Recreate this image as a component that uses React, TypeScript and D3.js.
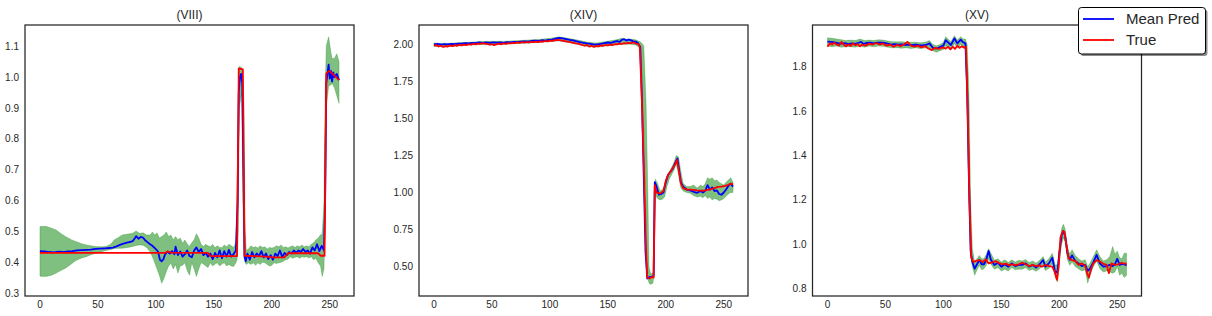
import * as d3 from "d3";

type Pt = [number, number];
type Band = [number, number, number];

const xTicks = [0, 50, 100, 150, 200, 250];
const legendLabels = ["Mean Pred", "True"];

// (VIII)
const viiiYTicks = [0.3, 0.4, 0.5, 0.6, 0.7, 0.8, 0.9, 1.0, 1.1];
const viiiTrue: Pt[] = [
  [0, 0.432], [108, 0.432], [110, 0.437], [113, 0.433], [145, 0.432], [147, 0.422], [170, 0.422],
  [171.5, 1.028], [175, 1.025], [176.5, 0.423], [196, 0.42], [200, 0.418], [211, 0.418], [214, 0.431],
  [240, 0.431], [242, 0.423], [245.5, 0.423], [247, 1.012], [249.5, 1.02], [252, 1.012], [258, 0.99],
];
const viiiMean: Pt[] = [
  [0, 0.438], [4, 0.437], [8, 0.435], [12, 0.434], [16, 0.436], [20, 0.435], [24, 0.437], [28, 0.438],
  [32, 0.44], [36, 0.441], [40, 0.442], [44, 0.443], [48, 0.445], [52, 0.446], [56, 0.447], [60, 0.448],
  [63, 0.449], [66, 0.453], [69, 0.458], [72, 0.462], [75, 0.465], [78, 0.468], [80, 0.47], [82, 0.48],
  [83, 0.486], [85, 0.478], [87, 0.484], [89, 0.481], [91, 0.472], [93, 0.466], [95, 0.46], [97, 0.455],
  [99, 0.448], [101, 0.44], [102, 0.435], [103.5, 0.41], [105, 0.405], [106.5, 0.412], [108, 0.428],
  [110, 0.436], [112, 0.43], [114, 0.438], [116, 0.428], [117, 0.452], [119, 0.425], [121, 0.437],
  [123, 0.42], [125, 0.428], [127, 0.44], [129, 0.422], [131, 0.418], [133, 0.44], [135, 0.45],
  [137, 0.435], [139, 0.445], [141, 0.425], [143, 0.432], [145, 0.42], [147, 0.43], [149, 0.412],
  [151, 0.432], [153, 0.418], [155, 0.44], [157, 0.415], [159, 0.438], [161, 0.42], [163, 0.442],
  [165, 0.42], [167, 0.428], [169, 0.44], [170.5, 0.6], [171.5, 0.95], [172.5, 1.0], [173.5, 1.01],
  [174.5, 0.98], [175.5, 0.7], [176.5, 0.42], [177.5, 0.405], [179, 0.43], [181, 0.41], [183, 0.435],
  [185, 0.418], [187, 0.43], [189, 0.422], [191, 0.438], [193, 0.418], [195, 0.43], [197, 0.412],
  [199, 0.425], [201, 0.41], [203, 0.43], [205, 0.422], [207, 0.44], [209, 0.418], [211, 0.432],
  [213, 0.425], [215, 0.435], [217, 0.43], [219, 0.44], [221, 0.432], [223, 0.44], [225, 0.435],
  [227, 0.445], [229, 0.435], [231, 0.44], [233, 0.43], [235, 0.45], [237, 0.44], [239, 0.46],
  [241, 0.438], [243, 0.455], [245, 0.44], [246, 0.6], [247, 0.98], [248, 1.01], [249, 1.04],
  [250, 0.995], [251, 1.02], [252, 0.985], [253, 1.015], [254, 1.0], [256, 1.01], [258, 0.99],
];
const viiiBand: Band[] = [
  [0, 0.357, 0.517], [5, 0.356, 0.518], [10, 0.36, 0.512], [14, 0.367, 0.506], [18, 0.375, 0.495],
  [22, 0.383, 0.485], [27, 0.396, 0.475], [31, 0.408, 0.469], [36, 0.416, 0.462], [40, 0.42, 0.458],
  [44, 0.426, 0.455], [48, 0.431, 0.453], [53, 0.436, 0.452], [57, 0.44, 0.453], [61, 0.443, 0.46],
  [64, 0.446, 0.474], [68, 0.447, 0.483], [71, 0.447, 0.49], [76, 0.45, 0.493], [80, 0.453, 0.496],
  [83, 0.456, 0.503], [86, 0.458, 0.495], [89, 0.457, 0.497], [92, 0.45, 0.49], [95, 0.436, 0.49],
  [97, 0.42, 0.5], [99, 0.4, 0.49], [101, 0.38, 0.497], [103, 0.36, 0.48], [105, 0.334, 0.485],
  [107, 0.35, 0.49], [109, 0.372, 0.5], [111, 0.39, 0.485], [113, 0.399, 0.49], [115, 0.38, 0.475],
  [117, 0.395, 0.485], [119, 0.367, 0.475], [121, 0.39, 0.48], [123, 0.392, 0.463], [125, 0.4, 0.474],
  [127, 0.375, 0.462], [129, 0.36, 0.453], [131, 0.4, 0.465], [133, 0.38, 0.475], [135, 0.356, 0.494],
  [137, 0.38, 0.48], [139, 0.4, 0.46], [141, 0.396, 0.453], [143, 0.39, 0.46], [145, 0.385, 0.455],
  [147, 0.4, 0.452], [149, 0.39, 0.46], [151, 0.396, 0.449], [153, 0.4, 0.455], [155, 0.39, 0.45],
  [157, 0.396, 0.449], [159, 0.4, 0.458], [161, 0.39, 0.452], [163, 0.395, 0.46], [165, 0.39, 0.455],
  [167, 0.388, 0.45], [169, 0.4, 0.465], [170, 0.41, 0.55], [171, 0.5, 0.9], [172, 0.9, 1.035],
  [174, 0.95, 1.03], [175, 0.6, 1.02], [176, 0.42, 0.9], [177, 0.4, 0.5], [178, 0.395, 0.44],
  [180, 0.4, 0.445], [182, 0.395, 0.455], [184, 0.4, 0.45], [186, 0.392, 0.452], [188, 0.4, 0.448],
  [190, 0.395, 0.455], [192, 0.402, 0.45], [194, 0.4, 0.452], [196, 0.395, 0.445], [198, 0.39, 0.45],
  [200, 0.392, 0.448], [202, 0.4, 0.45], [204, 0.398, 0.455], [206, 0.4, 0.452], [208, 0.402, 0.458],
  [210, 0.405, 0.45], [212, 0.41, 0.452], [214, 0.412, 0.448], [216, 0.42, 0.452], [218, 0.415, 0.455],
  [220, 0.418, 0.45], [222, 0.42, 0.455], [224, 0.415, 0.452], [226, 0.42, 0.458], [228, 0.418, 0.452],
  [230, 0.42, 0.455], [232, 0.416, 0.452], [234, 0.42, 0.46], [236, 0.41, 0.465], [238, 0.415, 0.474],
  [240, 0.4, 0.48], [242, 0.39, 0.49], [243.5, 0.356, 0.495], [245, 0.38, 0.6], [246, 0.55, 0.95],
  [247, 0.9, 1.1], [249, 0.97, 1.13], [251, 0.975, 1.08], [252, 0.98, 1.06], [254, 0.965, 1.06],
  [256, 0.94, 1.075], [258, 0.915, 1.05],
];

// (XIV)
const xivYTicks = [0.5, 0.75, 1.0, 1.25, 1.5, 1.75, 2.0];
const xivTrue: Pt[] = [
  [0, 1.991], [2, 1.995], [4, 1.985], [6, 1.99], [8, 1.982], [10, 1.988], [12, 1.985], [14, 1.992],
  [16, 1.988], [18, 1.994], [20, 1.99], [22, 1.996], [24, 1.992], [26, 1.998], [28, 1.994], [30, 2.0],
  [32, 1.997], [34, 2.002], [36, 2.0], [38, 2.005], [40, 2.003], [42, 2.008], [44, 2.004], [46, 2.002],
  [48, 1.998], [50, 2.0], [52, 1.994], [54, 2.0], [56, 2.004], [58, 2.0], [60, 2.006], [62, 2.002],
  [64, 2.008], [66, 2.006], [68, 2.01], [70, 2.008], [72, 2.012], [74, 2.01], [76, 2.014], [78, 2.011],
  [80, 2.015], [82, 2.012], [84, 2.016], [86, 2.014], [88, 2.018], [90, 2.015], [92, 2.02], [94, 2.017],
  [96, 2.022], [98, 2.019], [100, 2.024], [102, 2.022], [104, 2.027], [106, 2.03], [108, 2.028],
  [110, 2.026], [112, 2.022], [114, 2.02], [116, 2.016], [118, 2.014], [120, 2.01], [122, 2.006],
  [124, 2.004], [126, 2.0], [128, 1.995], [130, 1.99], [132, 1.996], [134, 1.984], [136, 1.99],
  [138, 1.982], [140, 1.99], [142, 1.986], [144, 1.992], [146, 1.99], [148, 1.995], [150, 1.993],
  [152, 1.997], [154, 1.995], [156, 2.0], [158, 2.0], [160, 2.004], [162, 2.002], [164, 2.008],
  [166, 2.006], [168, 2.01], [170, 2.008], [172, 2.012], [174, 2.005], [176, 2.003], [177.5, 1.99],
  [179, 1.7], [181, 1.2], [183, 0.6], [184, 0.425], [186, 0.42], [188, 0.43], [189.5, 0.425],
  [190.5, 1.05], [192, 1.0], [194, 0.995], [196, 0.998], [198, 1.01], [200, 1.08], [202, 1.12],
  [204, 1.14], [206, 1.165], [208, 1.19], [209.5, 1.22], [211, 1.16], [213, 1.06], [215, 1.03],
  [218, 1.02], [221, 1.02], [224, 1.018], [227, 1.015], [230, 1.013], [233, 1.012], [236, 1.018],
  [239, 1.022], [242, 1.03], [245, 1.038], [248, 1.04], [251, 1.045], [254, 1.052], [256, 1.06],
  [258, 1.055],
];
const xivMean: Pt[] = [
  [0, 2.0], [3, 2.002], [6, 1.998], [9, 2.001], [12, 1.999], [15, 2.003], [18, 2.001], [21, 2.005],
  [24, 2.004], [27, 2.007], [30, 2.006], [33, 2.009], [36, 2.008], [39, 2.012], [42, 2.01], [45, 2.012],
  [48, 2.009], [51, 2.013], [54, 2.011], [57, 2.012], [60, 2.01], [63, 2.014], [66, 2.012], [69, 2.016],
  [72, 2.014], [75, 2.018], [78, 2.02], [81, 2.017], [84, 2.022], [87, 2.025], [90, 2.022], [93, 2.027],
  [96, 2.025], [99, 2.03], [102, 2.032], [105, 2.038], [108, 2.043], [111, 2.04], [114, 2.035],
  [117, 2.03], [120, 2.026], [123, 2.02], [126, 2.014], [129, 2.01], [132, 2.006], [135, 2.003],
  [138, 1.997], [141, 2.0], [144, 2.003], [147, 2.008], [150, 2.012], [153, 2.01], [156, 2.018],
  [158, 2.022], [160, 2.015], [162, 2.03], [164, 2.034], [166, 2.025], [168, 2.031], [170, 2.026],
  [172, 2.02], [174, 2.018], [176, 2.008], [178, 1.98], [179.5, 1.6], [181, 1.1], [182.5, 0.6],
  [184, 0.42], [186, 0.43], [188, 0.43], [189.5, 0.44], [190.5, 1.07], [192, 1.04], [194, 0.985],
  [196, 0.99], [198, 1.0], [200, 1.07], [202, 1.12], [204, 1.14], [206, 1.16], [208, 1.2], [210, 1.23],
  [211.5, 1.15], [213, 1.07], [215, 1.04], [218, 1.02], [221, 1.015], [224, 1.005], [227, 0.998],
  [230, 1.01], [232, 1.0], [234, 1.012], [236, 1.05], [238, 1.02], [240, 1.035], [242, 1.01],
  [244, 1.015], [246, 0.99], [248, 0.985], [250, 1.0], [252, 1.02], [254, 1.045], [256, 1.06],
  [258, 1.04],
];
const xivBand: Band[] = [
  [0, 1.985, 2.008], [10, 1.982, 2.006], [20, 1.988, 2.01], [30, 1.995, 2.014], [40, 1.998, 2.018],
  [50, 1.995, 2.02], [60, 2.0, 2.02], [70, 2.004, 2.024], [80, 2.008, 2.028], [90, 2.012, 2.032],
  [100, 2.018, 2.04], [108, 2.022, 2.05], [116, 2.012, 2.04], [124, 2.0, 2.028], [132, 1.985, 2.015],
  [140, 1.98, 2.008], [148, 1.988, 2.018], [156, 1.995, 2.028], [162, 2.0, 2.04], [166, 2.0, 2.035],
  [170, 2.0, 2.035], [174, 1.995, 2.03], [177, 1.98, 2.02], [179, 1.9, 2.01], [181, 1.4, 1.99],
  [183, 0.8, 1.6], [184.5, 0.42, 1.0], [185.5, 0.39, 0.5], [187, 0.38, 0.45], [189, 0.39, 0.46],
  [190, 0.5, 1.0], [191, 0.98, 1.09], [193, 0.96, 1.06], [195, 0.95, 1.01], [197, 0.955, 1.02],
  [199, 0.97, 1.04], [201, 1.04, 1.11], [203, 1.09, 1.14], [205, 1.12, 1.17], [207, 1.15, 1.2],
  [209, 1.19, 1.25], [211, 1.12, 1.24], [213, 1.03, 1.14], [215, 1.01, 1.06], [218, 1.0, 1.04],
  [221, 0.995, 1.04], [224, 0.98, 1.05], [227, 0.97, 1.03], [230, 0.975, 1.05], [232, 0.965, 1.04],
  [234, 0.98, 1.06], [236, 0.96, 1.1], [238, 0.97, 1.09], [240, 0.95, 1.1], [242, 0.96, 1.08],
  [244, 0.955, 1.085], [246, 0.945, 1.07], [248, 0.95, 1.06], [250, 0.96, 1.05], [252, 0.975, 1.07],
  [254, 0.99, 1.085], [256, 1.0, 1.1], [258, 1.0, 1.07],
];

// (XV)
const xvYTicks = [0.8, 1.0, 1.2, 1.4, 1.6, 1.8];
const xvTrue: Pt[] = [
  [0, 1.89], [2, 1.905], [4, 1.9], [6, 1.908], [8, 1.9], [10, 1.895], [12, 1.912], [14, 1.9], [16, 1.892],
  [18, 1.9], [20, 1.893], [22, 1.905], [24, 1.897], [26, 1.902], [28, 1.892], [30, 1.9], [33, 1.895],
  [36, 1.904], [39, 1.9], [42, 1.907], [45, 1.9], [48, 1.905], [51, 1.895], [54, 1.9], [57, 1.89],
  [60, 1.898], [63, 1.893], [66, 1.9], [69, 1.912], [72, 1.895], [75, 1.89], [78, 1.895], [81, 1.887],
  [84, 1.893], [87, 1.882], [90, 1.875], [93, 1.885], [96, 1.88], [99, 1.887], [102, 1.882], [104, 1.89],
  [106, 1.878], [108, 1.89], [110, 1.88], [112, 1.895], [114, 1.885], [116, 1.892], [118, 1.885],
  [119.5, 1.89], [121, 1.6], [122.5, 1.2], [124, 0.94], [126, 0.92], [128, 0.925], [131, 0.929],
  [134, 0.92], [136.6, 0.932], [139, 0.914], [142, 0.918], [145, 0.924], [148, 0.915], [151, 0.91],
  [154, 0.913], [156.5, 0.905], [159, 0.91], [162, 0.906], [165, 0.91], [168, 0.917], [171, 0.91],
  [174, 0.902], [177, 0.907], [180, 0.902], [182.5, 0.905], [185, 0.899], [188, 0.907], [191, 0.902],
  [194, 0.899], [196, 0.876], [198, 0.84], [199.5, 0.9], [201, 1.03], [203, 1.06], [204.5, 1.055],
  [206, 1.0], [208, 0.937], [210.8, 0.929], [213.7, 0.925], [216.6, 0.907], [219.4, 0.914],
  [222.3, 0.903], [224, 0.869], [225.5, 0.85], [227.5, 0.89], [229.4, 0.914], [232.2, 0.929],
  [235, 0.922], [238, 0.912], [240.8, 0.907], [242.8, 0.87], [245, 0.914], [248, 0.907], [251, 0.91],
  [253.7, 0.917], [256, 0.912], [258, 0.915],
];
const xvMean: Pt[] = [
  [0, 1.913], [3, 1.912], [6, 1.91], [9, 1.906], [12, 1.904], [15, 1.906], [18, 1.902], [21, 1.905],
  [24, 1.903], [27, 1.908], [29, 1.912], [31, 1.903], [34, 1.907], [37, 1.908], [40, 1.905], [43, 1.909],
  [46, 1.908], [49, 1.907], [52, 1.904], [55, 1.9], [58, 1.902], [61, 1.899], [64, 1.901], [67, 1.898],
  [70, 1.9], [73, 1.897], [76, 1.899], [79, 1.897], [82, 1.896], [85, 1.898], [88, 1.905], [91, 1.885],
  [94, 1.882], [97, 1.888], [100, 1.895], [102, 1.92], [104, 1.91], [106.5, 1.898], [109.5, 1.928],
  [112, 1.905], [115, 1.922], [117, 1.91], [119, 1.905], [120.5, 1.7], [122, 1.3], [123.5, 0.97],
  [125, 0.92], [127, 0.89], [129, 0.91], [131, 0.93], [133, 0.91], [135, 0.91], [137, 0.93], [139, 0.97],
  [141, 0.93], [144, 0.907], [147, 0.917], [150, 0.899], [153, 0.91], [156, 0.899], [159, 0.914],
  [162, 0.902], [165, 0.907], [168, 0.907], [171, 0.914], [174, 0.899], [177, 0.907], [180, 0.895],
  [183, 0.91], [186, 0.929], [188, 0.899], [191, 0.914], [194, 0.94], [196.5, 0.87], [198.5, 0.88],
  [200, 0.96], [202, 1.04], [203.5, 1.06], [205, 1.04], [207, 0.96], [209, 0.93], [211, 0.95],
  [213.7, 0.925], [216.6, 0.914], [219.4, 0.902], [222.3, 0.907], [224.5, 0.88], [226.5, 0.89],
  [229.4, 0.92], [232.2, 0.952], [235, 0.914], [238, 0.899], [240.8, 0.902], [243.5, 0.907],
  [246, 0.902], [248, 0.91], [250, 0.935], [252, 0.907], [254, 0.912], [256, 0.91], [258, 0.905],
];
const xvBand: Band[] = [
  [0, 1.893, 1.93], [4, 1.89, 1.928], [8, 1.893, 1.925], [12, 1.888, 1.922], [16, 1.89, 1.918],
  [20, 1.89, 1.92], [24, 1.888, 1.918], [28, 1.893, 1.925], [32, 1.888, 1.918], [36, 1.893, 1.92],
  [40, 1.89, 1.918], [44, 1.893, 1.922], [48, 1.892, 1.92], [52, 1.888, 1.916], [56, 1.885, 1.913],
  [60, 1.886, 1.912], [64, 1.883, 1.913], [68, 1.886, 1.91], [72, 1.882, 1.91], [76, 1.885, 1.91],
  [80, 1.882, 1.908], [84, 1.884, 1.91], [88, 1.885, 1.918], [91, 1.872, 1.9], [94, 1.865, 1.895],
  [97, 1.872, 1.9], [100, 1.878, 1.91], [102, 1.895, 1.935], [104, 1.89, 1.925], [106.5, 1.875, 1.912],
  [109.5, 1.905, 1.94], [112, 1.885, 1.92], [115, 1.9, 1.935], [117, 1.888, 1.925], [119, 1.885, 1.925],
  [120.5, 1.6, 1.9], [122, 1.2, 1.7], [123.5, 0.95, 1.2], [125, 0.9, 0.98], [127, 0.86, 0.92],
  [129, 0.885, 0.935], [131, 0.905, 0.95], [133, 0.885, 0.935], [135, 0.89, 0.935], [137, 0.905, 0.955],
  [139, 0.935, 0.98], [141, 0.91, 0.96], [144, 0.888, 0.928], [147, 0.895, 0.935], [150, 0.88, 0.92],
  [153, 0.888, 0.93], [156, 0.88, 0.918], [159, 0.895, 0.93], [162, 0.885, 0.92], [165, 0.888, 0.928],
  [168, 0.888, 0.925], [171, 0.895, 0.932], [174, 0.882, 0.918], [177, 0.888, 0.925], [180, 0.878, 0.915],
  [183, 0.89, 0.928], [186, 0.905, 0.945], [188, 0.882, 0.92], [191, 0.892, 0.935], [194, 0.915, 0.96],
  [196.5, 0.85, 0.905], [198.5, 0.83, 0.91], [200, 0.92, 0.99], [202, 1.0, 1.07], [203.5, 1.03, 1.09],
  [205, 1.01, 1.07], [207, 0.93, 0.99], [209, 0.905, 0.955], [211, 0.92, 0.975], [213.7, 0.9, 0.95],
  [216.6, 0.89, 0.935], [219.4, 0.88, 0.925], [222.3, 0.885, 0.93], [224.5, 0.825, 0.9],
  [226.5, 0.86, 0.915], [229.4, 0.9, 0.945], [232.2, 0.925, 0.975], [235, 0.89, 0.945],
  [238, 0.875, 0.925], [240.8, 0.88, 0.93], [243.5, 0.875, 0.945], [246, 0.87, 0.99],
  [248, 0.875, 0.955], [250, 0.9, 0.97], [252, 0.86, 0.94], [254, 0.87, 0.935], [256, 0.85, 0.96],
  [258, 0.86, 0.96],
];

const WIDTH = 1212;
const HEIGHT = 316;
const TOP = 25;
const BOTTOM = 296;
const PANEL_W = 329;
const X_DOMAIN: [number, number] = [-12.9, 270.9];
const FONT = "'Liberation Sans', Arial, sans-serif";
const INK = "#262626";
const LINE_W = 1.8;

interface PanelProps {
  left: number;
  title: string;
  yDomain: [number, number];
  yTicks: number[];
  fmt: string;
  band: Band[];
  mean: Pt[];
  truth: Pt[];
}

function Panel({ left, title, yDomain, yTicks, fmt, band, mean, truth }: PanelProps) {
  const x = d3.scaleLinear().domain(X_DOMAIN).range([left, left + PANEL_W]);
  const y = d3.scaleLinear().domain(yDomain).range([BOTTOM, TOP]);
  const area = d3
    .area<Band>()
    .x((d) => x(d[0]))
    .y0((d) => y(d[1]))
    .y1((d) => y(d[2]));
  const line = d3
    .line<Pt>()
    .x((d) => x(d[0]))
    .y((d) => y(d[1]));
  const f = d3.format(fmt);

  return (
    <g>
      <path d={area(band) ?? ""} fill="green" fillOpacity={0.5} stroke="green" strokeOpacity={0.5} strokeWidth={0.5} />
      <path d={line(mean) ?? ""} fill="none" stroke="blue" strokeWidth={LINE_W} strokeLinejoin="round" />
      <path d={line(truth) ?? ""} fill="none" stroke="red" strokeWidth={LINE_W} strokeLinejoin="round" />
      <rect x={left} y={TOP} width={PANEL_W} height={BOTTOM - TOP} fill="none" stroke={INK} strokeWidth={1.25} />
      {yTicks.map((t) => (
        <text key={t} x={left - 6} y={y(t)} dy="0.35em" textAnchor="end" fontSize={10} fill={INK}>
          {f(t)}
        </text>
      ))}
      {xTicks.map((t) => (
        <text key={t} x={x(t)} y={BOTTOM + 11.5} textAnchor="middle" fontSize={10} fill={INK}>
          {t}
        </text>
      ))}
      <text x={left + PANEL_W / 2} y={19} textAnchor="middle" fontSize={12} fill={INK}>
        {title}
      </text>
    </g>
  );
}

export default function App() {
  const legendColors = ["blue", "red"];
  return (
    <svg
      width={WIDTH}
      height={HEIGHT}
      style={{ position: "absolute", left: 0, top: 0, background: "white" }}
      fontFamily={FONT}
    >
      <rect width={WIDTH} height={HEIGHT} fill="white" />
      <Panel left={25} title="(VIII)" yDomain={[0.293, 1.168]} yTicks={viiiYTicks} fmt=".1f" band={viiiBand} mean={viiiMean} truth={viiiTrue} />
      <Panel left={419} title="(XIV)" yDomain={[0.302, 2.13]} yTicks={xivYTicks} fmt=".2f" band={xivBand} mean={xivMean} truth={xivTrue} />
      <Panel left={812.5} title="(XV)" yDomain={[0.767, 1.988]} yTicks={xvYTicks} fmt=".1f" band={xvBand} mean={xvMean} truth={xvTrue} />
      <g>
        <rect x={1080.5} y={9.5} width={127} height={46.5} rx={3} fill="#000" fillOpacity={0.45} />
        <rect x={1078.5} y={7.5} width={127} height={46.5} rx={3} fill="white" stroke="#000" strokeWidth={1} />
        {legendLabels.map((label, i) => (
          <g key={label}>
            <line x1={1083} x2={1114} y1={19 + i * 21} y2={19 + i * 21} stroke={legendColors[i]} strokeWidth={LINE_W} />
            <text x={1126} y={19 + i * 21} dy="0.36em" fontSize={15} fill={INK}>
              {label}
            </text>
          </g>
        ))}
      </g>
    </svg>
  );
}
